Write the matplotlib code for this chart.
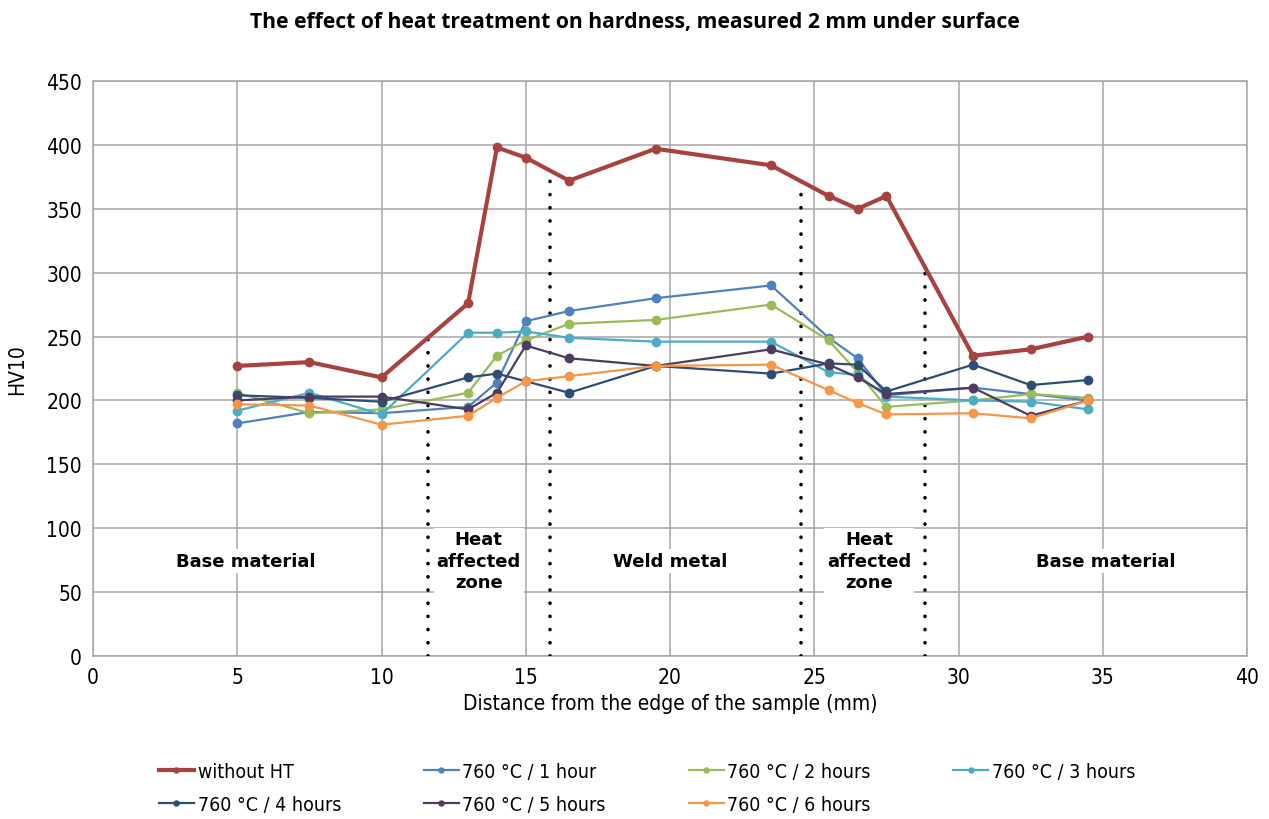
import numpy as np
import matplotlib
matplotlib.use("Agg")
import matplotlib.pyplot as plt
from matplotlib import font_manager

# distance from edge (mm), same for every series
x_mm = [5, 7.5, 10, 13, 14, 15, 16.5, 19.5, 23.5, 25.5, 26.5, 27.5, 30.5, 32.5, 34.5]

hv_no_ht = [227, 230, 218, 276, 398, 390, 372, 397, 384, 360, 350, 360, 235, 240, 250]
hv_1h = [182, 191, 190, 195, 214, 262, 270, 280, 290, 249, 233, 204, 210, 205, 200]
hv_2h = [206, 190, 193, 206, 235, 247, 260, 263, 275, 247, 222, 195, 200, 205, 202]
hv_3h = [192, 206, 189, 253, 253, 254, 249, 246, 246, 222, 220, 203, 200, 199, 193]
hv_4h = [204, 202, 199, 218, 221, 215, 206, 227, 221, 229, 228, 207, 228, 212, 216]
hv_5h = [200, 203, 203, 193, 206, 243, 233, 227, 240, 228, 218, 205, 210, 188, 200]
hv_6h = [197, 196, 181, 188, 202, 215, 219, 227, 228, 208, 198, 189, 190, 186, 200]

labels = ["without HT", "760 °C / 1 hour", "760 °C / 2 hours", "760 °C / 3 hours",
          "760 °C / 4 hours", "760 °C / 5 hours", "760 °C / 6 hours"]
colors = ["#A8423F", "#4F81BD", "#9BBB59", "#4BACC6", "#2C4D75", "#4D3B62", "#F79646"]

# zone boundaries (mm) and the zone names
bounds = [11.6, 15.85, 24.55, 28.85]
zones = ["Base material", "Heat\naffected\nzone", "Weld metal", "Heat\naffected\nzone", "Base material"]
zone_x = [5.3, 13.37, 20.0, 26.9, 35.1]
zone_y = 74.5

cond = font_manager.FontProperties(family="DejaVu Sans", stretch="condensed", size=15)
cond_leg = font_manager.FontProperties(family="DejaVu Sans", stretch="condensed", size=14)

fig = plt.figure(figsize=(12.69, 8.2), dpi=100)
ax = fig.add_axes([0.0733, 0.1988, 0.9094, 0.7012])

series = [hv_no_ht, hv_1h, hv_2h, hv_3h, hv_4h, hv_5h, hv_6h]
handles = []
for i, s in enumerate(series):
    lw = 3.0 if i == 0 else 1.6
    h, = ax.plot(x_mm, s, color=colors[i], lw=lw, marker="o", ms=6, zorder=4 + (i == 0))
    handles.append(h)

# dotted zone borders, from the untreated curve down to 0
for b in bounds:
    top = np.interp(b, x_mm, hv_no_ht)
    ax.plot([b, b], [0, top], color="black", lw=2.6, linestyle=(0, (0.05, 3.6)),
            dash_capstyle="round", zorder=3)

for zx, zt in zip(zone_x, zones):
    ax.text(zx, zone_y, zt, ha="center", va="center", fontsize=13, fontweight="bold",
            family="DejaVu Sans", linespacing=1.25, zorder=2.5,
            bbox=dict(facecolor="white", edgecolor="none", pad=2))

ax.set_xlim(0, 40)
ax.set_ylim(0, 450)
ax.set_xticks(range(0, 41, 5))
ax.set_yticks(range(0, 451, 50))
ax.grid(True, color="#A6A6A6", lw=1.1)
ax.set_axisbelow(True)
for sp in ax.spines.values():
    sp.set_color("#A6A6A6")
    sp.set_linewidth(1.1)
ax.tick_params(length=0, pad=8)
for t in ax.get_xticklabels() + ax.get_yticklabels():
    t.set_fontproperties(cond)

ax.set_xlabel("Distance from the edge of the sample (mm)", fontproperties=cond, labelpad=4)
ax.set_ylabel("HV10", fontproperties=cond, labelpad=14)

fig.text(0.5, 0.972, "The effect of heat treatment on hardness, measured 2 mm under surface",
         ha="center", va="center", fontsize=15.2, fontweight="bold", family=["Open Sans", "DejaVu Sans"])

order = [0, 4, 1, 5, 2, 6, 3]
fig.legend([handles[k] for k in order], [labels[k] for k in order], ncol=4,
           loc="center", bbox_to_anchor=(0.51, 0.038), frameon=False,
           prop=cond_leg, handlelength=1.8, handletextpad=0.2,
           columnspacing=4.25, labelspacing=0.75, markerscale=0.6)

fig.savefig("out.png", dpi=100)
